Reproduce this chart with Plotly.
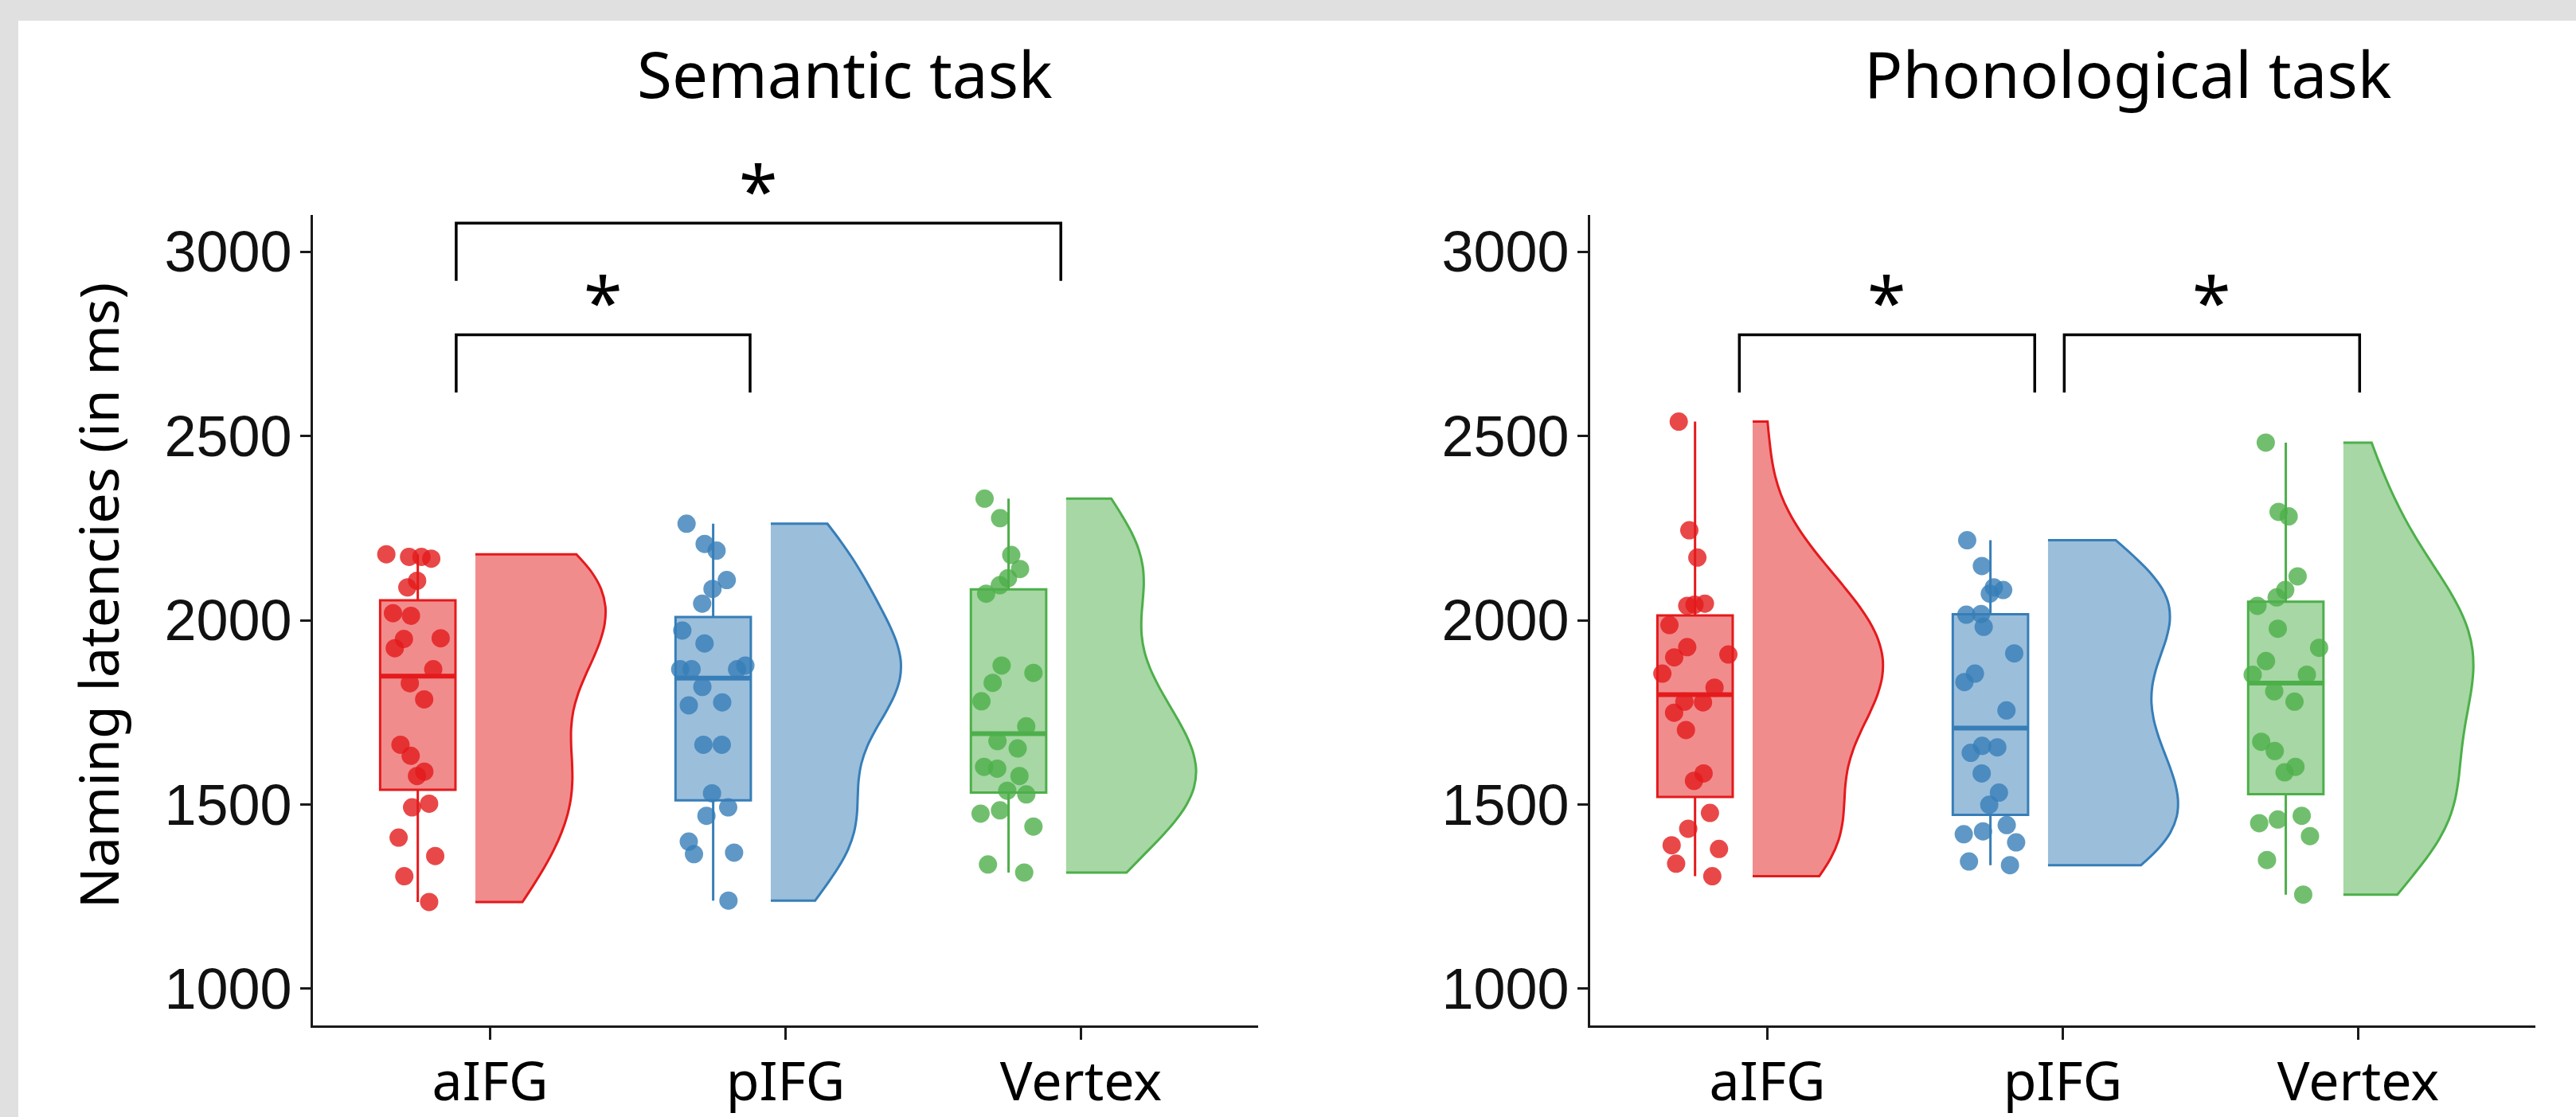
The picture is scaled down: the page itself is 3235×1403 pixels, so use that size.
import numpy as np
import plotly.graph_objects as go

# ---------------- data ----------------
categories = ["aIFG", "pIFG", "Vertex"]
panel_titles = ["Semantic task", "Phonological task"]
y_tick_values = [1000, 1500, 2000, 2500, 3000]
y_title = "Naming latencies (in ms)"

semantic_aIFG = [2172, 2167, 2179, 2172, 2107, 2089, 2012, 2019, 1951, 1949, 1924, 1867,
                 1829, 1785, 1662, 1632, 1577, 1589, 1492, 1502, 1410, 1360, 1305, 1235]
semantic_pIFG = [2262, 2207, 2189, 2109, 2085, 2045, 1972, 1937, 1877, 1867, 1867, 1867,
                 1819, 1777, 1769, 1662, 1662, 1530, 1492, 1469, 1399, 1369, 1365, 1239]
semantic_Vertex = [2330, 2277, 2177, 2139, 2114, 2095, 2072, 1877, 1857, 1830, 1780, 1712,
                   1672, 1652, 1597, 1602, 1577, 1537, 1527, 1484, 1475, 1440, 1337, 1315]
phono_aIFG = [2539, 2244, 2170, 2045, 2039, 2042, 1987, 1927, 1899, 1907, 1855, 1817,
              1779, 1777, 1749, 1702, 1584, 1564, 1477, 1434, 1389, 1379, 1339, 1305]
phono_pIFG = [2217, 2147, 2082, 2089, 2072, 2017, 2015, 1982, 1910, 1855, 1832, 1755,
              1655, 1659, 1640, 1584, 1532, 1499, 1444, 1427, 1397, 1419, 1335, 1345]
phono_Vertex = [2482, 2282, 2294, 2119, 2082, 2062, 2039, 1977, 1925, 1889, 1852, 1852,
                1807, 1779, 1670, 1645, 1602, 1587, 1469, 1449, 1459, 1414, 1349, 1255]

panels_data = [
    [semantic_aIFG, semantic_pIFG, semantic_Vertex],
    [phono_aIFG, phono_pIFG, phono_Vertex],
]
# significant pairwise comparisons per panel
significance = [
    [("aIFG", "pIFG"), ("aIFG", "Vertex")],
    [("aIFG", "pIFG"), ("pIFG", "Vertex")],
]

# ---------------- style ----------------
W, H = 3235, 1403
colors = ["#E41A1C", "#377EB8", "#4DAF4A"]


def rgba(hex_color, a):
    h = hex_color.lstrip("#")
    r, g, b = int(h[0:2], 16), int(h[2:4], 16), int(h[4:6], 16)
    return f"rgba({r},{g},{b},{a})"


BOX_SHIFT = -0.245
BOX_WIDTH = 0.255
VIOLIN_SHIFT = -0.05
VIOLIN_WIDTH = 0.88
# bracket geometry per panel: (x_start, x_end, level) in data units
bracket_geom = [
    [(0.885, 1.88, 2775), (0.885, 2.932, 3078)],
    [(0.905, 1.905, 2775), (2.005, 3.005, 2775)],
]
LEG = 157
STAR_SHIFT_PX = 42

fig = go.Figure()

axis_ids = [("x", "y"), ("x2", "y2")]
for p, groups in enumerate(panels_data):
    xa, ya = axis_ids[p]
    for k, vals in enumerate(groups):
        c = colors[k]
        pos = k + 1
        v = np.asarray(vals, dtype=float)
        # bandwidth as in R's bw.nrd0
        q75, q25 = np.percentile(v, [75, 25])
        bw = 0.9 * min(v.std(ddof=1), (q75 - q25) / 1.34) * len(v) ** (-0.2)
        fig.add_trace(go.Violin(
            y=vals, x=[pos + VIOLIN_SHIFT] * len(vals), xaxis=xa, yaxis=ya,
            side="positive", width=VIOLIN_WIDTH, spanmode="hard", bandwidth=bw,
            points=False, fillcolor=rgba(c, 0.5), line=dict(color=c, width=3),
            box_visible=False, meanline_visible=False, scalemode="width",
            showlegend=False, hoverinfo="skip",
        ))
        fig.add_trace(go.Box(
            y=vals, x=[pos + BOX_SHIFT] * len(vals), xaxis=xa, yaxis=ya,
            width=BOX_WIDTH, boxpoints="all", jitter=1.0, pointpos=0,
            quartilemethod="linear", whiskerwidth=0,
            fillcolor=rgba(c, 0.5), line=dict(color=c, width=3),
            marker=dict(color=rgba(c, 0.8), size=23, line=dict(width=0)),
            showlegend=False, hoverinfo="skip",
        ))
        med = float(np.median(v))
        fig.add_trace(go.Scatter(
            x=[pos + BOX_SHIFT - BOX_WIDTH / 2, pos + BOX_SHIFT + BOX_WIDTH / 2],
            y=[med, med], mode="lines", xaxis=xa, yaxis=ya,
            line=dict(color=c, width=6), showlegend=False, hoverinfo="skip",
        ))
    for (x0, x1, lvl) in bracket_geom[p]:
        fig.add_trace(go.Scatter(
            x=[x0, x0, x1, x1], y=[lvl - LEG, lvl, lvl, lvl - LEG], mode="lines",
            xaxis=xa, yaxis=ya, line=dict(color="black", width=3.5),
            showlegend=False, hoverinfo="skip", cliponaxis=False,
        ))
        fig.add_annotation(x=(x0 + x1) / 2, y=lvl, xref=xa, yref=ya,
                           text="*", showarrow=False, yanchor="middle",
                           yshift=STAR_SHIFT_PX,
                           font=dict(family="Noto Sans", size=88, color="black"))

x_domains = [[393 / W, 1580 / W], [1997 / W, 3184 / W]]
y_domain = [1 - 1288 / H, 1 - 270 / H]

common_x = dict(range=[0.4, 3.6], tickvals=[1, 2, 3], ticktext=categories,
                showline=True, linecolor="#1a1a1a", linewidth=3, ticks="outside",
                ticklen=15, tickwidth=3, tickcolor="#1a1a1a", showgrid=False,
                zeroline=False, ticklabelstandoff=-6, automargin=False,
                tickfont=dict(family="Noto Sans", size=68, color="black"))
common_y = dict(range=[900, 3100], tickvals=y_tick_values,
                showline=True, linecolor="#1a1a1a", linewidth=3, ticks="outside",
                ticklen=13, tickwidth=3, tickcolor="#1a1a1a", showgrid=False,
                zeroline=False, ticklabelstandoff=-4, automargin=False,
                tickfont=dict(family="Liberation Sans", size=72, color="#111111"))

fig.update_layout(
    width=W, height=H, autosize=False,
    margin=dict(l=0, r=0, t=0, b=0, pad=0, autoexpand=False),
    paper_bgcolor="#e0e0e0", plot_bgcolor="white",
    xaxis=dict(domain=x_domains[0], anchor="y", **common_x),
    xaxis2=dict(domain=x_domains[1], anchor="y2", **common_x),
    yaxis=dict(domain=y_domain, anchor="x", **common_y),
    yaxis2=dict(domain=y_domain, anchor="x2", **common_y),
    violinmode="overlay", boxmode="overlay",
    shapes=[dict(type="rect", xref="paper", yref="paper", x0=23 / W, x1=1,
                 y0=0, y1=1 - 26 / H, fillcolor="white", line=dict(width=0),
                 layer="below")],
)

title_x = [1061 / W, 2672 / W]
for p, t in enumerate(panel_titles):
    fig.add_annotation(x=title_x[p], y=1 - 92 / H, xref="paper", yref="paper",
                       text=t, showarrow=False, xanchor="center", yanchor="middle",
                       font=dict(family="Noto Sans", size=80, color="black"))
fig.add_annotation(x=122 / W, y=1 - 748 / H, xref="paper", yref="paper",
                   text=y_title, textangle=-90, showarrow=False,
                   xanchor="center", yanchor="middle",
                   font=dict(family="Noto Sans", size=68, color="black"))

fig.write_html("out.html", config={"displayModeBar": False},
               post_script="document.body.style.margin='0';document.body.style.overflow='hidden';")
